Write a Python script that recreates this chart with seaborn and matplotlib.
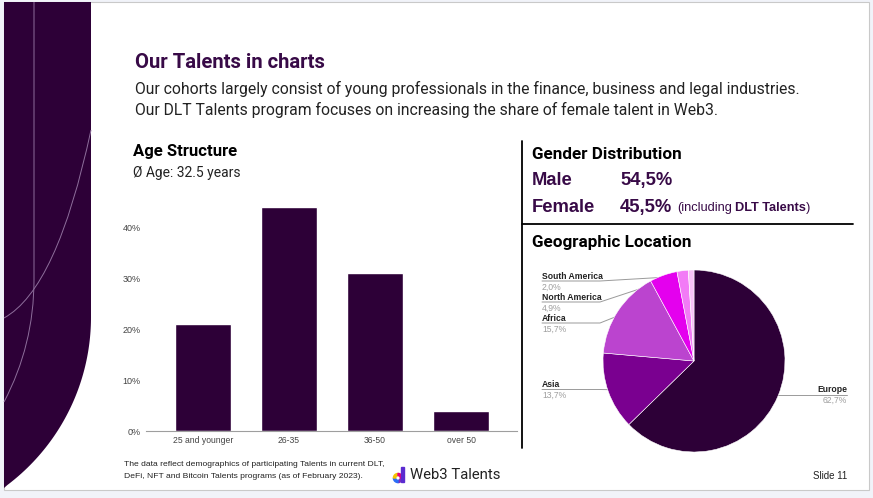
import numpy as np
import pandas as pd
import matplotlib
matplotlib.use("Agg")
import matplotlib.pyplot as plt
import seaborn as sns
from matplotlib import font_manager
from matplotlib.patches import Rectangle, PathPatch, Wedge, Polygon
from matplotlib.path import Path

# data
age_groups = ["25 and younger", "26-35", "36-50", "over 50"]
age_share = [0.21, 0.44, 0.31, 0.04]
age_ticks = [0.0, 0.1, 0.2, 0.3, 0.4]

regions = ["Europe", "Asia", "Africa", "North America", "South America", "Other"]
region_share = [62.7, 13.7, 15.7, 4.9, 2.0, 1.0]
region_pct = ["62,7%", "13,7%", "15,7%", "4,9%", "2,0%", ""]
region_colors = ["#2d0037", "#7a0090", "#bb44cf", "#e400ee", "#f27bf6", "#f8c2f8"]

gender = ["Male", "Female"]
gender_share = ["54,5%", "45,5%"]

W, H = 873, 498
PURPLE = "#2d0037"
HEAD = "#380a47"
TXT = "#222222"

sns.set_theme(style="white")
plt.rcParams["font.family"] = ["Roboto", "DejaVu Sans"]

have = {f.name for f in font_manager.fontManager.ttflist}
ARIAL = "Liberation Sans"
NARROW = "Liberation Sans Narrow" if "Liberation Sans Narrow" in have else ARIAL
nscale = 1.0 if NARROW != ARIAL else 0.76

fig = plt.figure(figsize=(W / 100, H / 100), dpi=100)
fig.patch.set_facecolor("#f1f3f9")

# pixel canvas for the slide itself
bg = fig.add_axes([0, 0, 1, 1])
bg.set_xlim(0, W)
bg.set_ylim(H, 0)
bg.axis("off")
bg.add_patch(Rectangle((4, 2), 865, 488, facecolor="white", edgecolor="#c9c9c9", lw=0.8))

# left decoration
cx, cy, r = -119.6, 317, 210.6
ys = np.linspace(cy, 488, 60)
xs = cx + np.sqrt(np.clip(r ** 2 - (ys - cy) ** 2, 0, None))
verts = [(4, 2), (91, 2)] + list(zip(np.maximum(xs, 4), ys)) + [(4, 488)]
bg.add_patch(Polygon(verts, closed=True, facecolor=PURPLE, edgecolor="none"))
line_c = "#8e6f9c"
pa = Path([(34, 2), (34, 280), (34, 345), (4, 402)],
          [Path.MOVETO, Path.LINETO, Path.CURVE3, Path.CURVE3])
pb = Path([(91, 130), (57, 289), (4, 318)], [Path.MOVETO, Path.CURVE3, Path.CURVE3])
for p in (pa, pb):
    bg.add_patch(PathPatch(p, facecolor="none", edgecolor=line_c, lw=0.7))

# header
bg.text(135, 62, "Our Talents in charts", size=14.6, weight="bold", color=HEAD, va="center")
bg.text(135, 89, "Our cohorts largely consist of young professionals in the finance, business and legal industries.",
        size=11.35, color=TXT, va="center")
bg.text(135, 110, "Our DLT Talents program focuses on increasing the share of female talent in Web3.",
        size=11.35, color=TXT, va="center")

bg.text(133, 151, "Age Structure", size=12, weight="bold", color="black", va="center")
bg.text(133, 173, "Ø Age: 32.5 years", size=10, color=TXT, va="center")

# right panel
bg.plot([522, 522], [141, 448], color="black", lw=1.3)
bg.plot([522, 853], [224, 224], color="black", lw=1.3)
bg.text(532, 154, "Gender Distribution", size=12.3, weight="bold", color="black", va="center")
bg.text(532, 242, "Geographic Location", size=12.3, weight="bold", color="black", va="center")
for g, s, y in zip(gender, gender_share, [180, 207]):
    bg.text(532, y, g, family=ARIAL, size=13.2, weight="bold", color=HEAD, va="center")
    bg.text(620, y, s, family=ARIAL, size=13.2, weight="bold", color=HEAD, va="center")

rend = fig.canvas.get_renderer()
t1 = bg.text(677, 208, "(including", family=ARIAL, size=9.2, color=HEAD, va="center")
x1 = bg.transData.inverted().transform((t1.get_window_extent(rend).x1, 0))[0] + 3
t2 = bg.text(x1, 208, "DLT Talents", family=ARIAL, size=9.2, weight="bold", color=HEAD, va="center")
x2 = bg.transData.inverted().transform((t2.get_window_extent(rend).x1, 0))[0] + 0.5
bg.text(x2, 208, ")", family=ARIAL, size=9.2, color=HEAD, va="center")

# bar chart
ax = fig.add_axes([146 / W, 1 - 431 / H, (517 - 146) / W, (431 - 197) / H])
df = pd.DataFrame({"age": age_groups, "share": age_share})
sns.barplot(data=df, x="age", y="share", color=PURPLE, saturation=1, width=0.65, ax=ax)
ax.set_xlim(-0.663, 3.651)
ax.set_ylim(0, 0.46)
ax.set_yticks(age_ticks)
ax.set_yticklabels([f"{int(round(t * 100))}%" for t in age_ticks])
ax.set_xlabel("")
ax.set_ylabel("")
ax.patch.set_alpha(0)
for s in ["top", "right", "left"]:
    ax.spines[s].set_visible(False)
ax.spines["bottom"].set_color("#9e9e9e")
ax.spines["bottom"].set_linewidth(0.8)
ax.tick_params(axis="both", length=0, labelcolor="#444444")
ax.tick_params(axis="y", pad=4.0, labelsize=6.5)
ax.tick_params(axis="x", pad=3.6, labelsize=6.2)
for lab in ax.get_xticklabels() + ax.get_yticklabels():
    lab.set_family(ARIAL)

# pie chart
pcx, pcy, pr = 694, 361, 91
pax = fig.add_axes([(pcx - pr) / W, 1 - (pcy + pr) / H, 2 * pr / W, 2 * pr / H])
wedges, _ = pax.pie(region_share, colors=region_colors, startangle=90, counterclock=False,
                    wedgeprops=dict(edgecolor="white", linewidth=0.4))
pax.set_xlim(-1, 1)
pax.set_ylim(-1, 1)

label_pos = {
    "South America": (542, 276),
    "North America": (542, 297),
    "Africa": (542, 318),
    "Asia": (542, 384.5),
    "Europe": (847, 389.5),
}
lead_c = "#9a9a9a"
for w, name, pct in zip(wedges, regions, region_pct):
    if name not in label_pos:
        continue
    mid = np.deg2rad((w.theta1 + w.theta2) / 2)
    axp = pcx + 0.94 * pr * np.cos(mid)
    ayp = pcy - 0.94 * pr * np.sin(mid)
    lx, ly = label_pos[name]
    uy = ly + 5
    ha = "right" if name == "Europe" else "left"
    if ha == "left":
        bg.plot([lx, 600, axp], [uy, uy, ayp], color=lead_c, lw=0.7)
    else:
        bg.plot([lx, axp], [uy, uy], color=lead_c, lw=0.7)
    bg.plot(axp, ayp, "o", ms=1.5, color=lead_c)
    bg.text(lx, ly, name, family=ARIAL, size=6.2, weight="bold", color="#222222", ha=ha, va="center")
    bg.text(lx, ly + 11, pct, family=ARIAL, size=6.2, color="#9e9e9e", ha=ha, va="center")

# footer
bg.text(124, 464, "The data reflect demographics of participating Talents in current DLT,",
        family=NARROW, size=8 * nscale, color=TXT, va="center")
bg.text(124, 476, "DeFi, NFT and Bitcoin Talents programs (as of February 2023).",
        family=NARROW, size=8 * nscale, color=TXT, va="center")
for a0, col in zip([0, 90, 180, 270], ["#7b2cbf", "#2b6cf6", "#f5c400", "#e6007e"]):
    bg.add_patch(Wedge((398, 478), 4.6, a0, a0 + 90, width=2.2, color=col))
bg.add_patch(Rectangle((401.3, 467), 2.2, 15, color="#5b2bd0"))
bg.text(410, 475, "Web3 Talents", size=10.7, color=TXT, va="center")
bg.text(847, 476, "Slide 11", family=ARIAL, size=7, color=TXT, ha="right", va="center")

fig.savefig("out.png", dpi=100, facecolor=fig.get_facecolor())
